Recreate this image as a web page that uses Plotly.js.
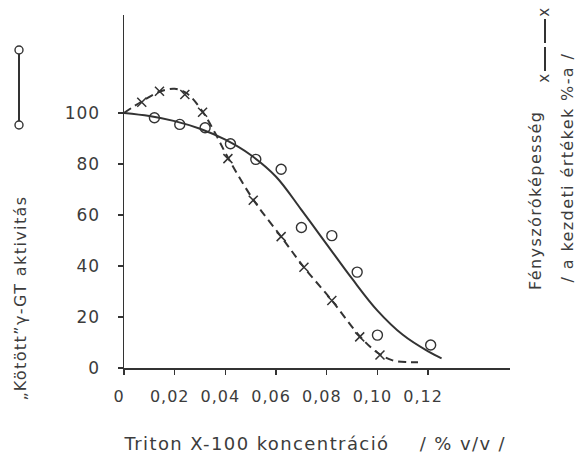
<!DOCTYPE html>
<html>
<head>
<meta charset="utf-8">
<script src="https://cdn.plot.ly/plotly-3.0.1.min.js"></script>
<style>
  html, body { margin: 0; padding: 0; background: #fff; }
  #chart { width: 581px; height: 458px; }
  .main-svg text { letter-spacing: 1px; }
  .main-svg .annotation-text { letter-spacing: 1.4px; }
</style>
</head>
<body>
<div id="chart"></div>
<script>
// ---- data ----
// measured points: "Kötött" γ-GT activity (open circles)
const circleX = [0.012, 0.022, 0.032, 0.042, 0.052, 0.062, 0.070, 0.082, 0.092, 0.100, 0.121];
const circleY = [98.1, 95.5, 94.2, 87.9, 81.8, 77.9, 55.1, 51.9, 37.6, 12.9, 9.0];
// measured points: light scattering (crosses)
const crossX = [0.007, 0.014, 0.024, 0.031, 0.041, 0.051, 0.062, 0.071, 0.082, 0.093, 0.101];
const crossY = [104.2, 108.5, 107.2, 100.3, 82.1, 65.8, 51.5, 39.5, 26.5, 12.2, 5.1];
// hand-drawn fitted curve through the circles (solid)
const solidX = [0, 0.01, 0.02, 0.03, 0.04, 0.05, 0.06, 0.07, 0.08, 0.09, 0.10, 0.11, 0.12, 0.1253];
const solidY = [100, 98.8, 96.8, 93.8, 89.5, 83.5, 75, 62, 48.5, 35, 22.5, 13, 6.5, 3.8];
// hand-drawn curve through the crosses (dashed)
const dashX = [0, 0.007, 0.014, 0.020, 0.025, 0.031, 0.036, 0.041, 0.051, 0.062, 0.071, 0.082, 0.093, 0.100, 0.106, 0.112, 0.116];
const dashY = [100, 104.5, 108.3, 109.5, 107.5, 100.5, 92, 82.5, 66, 51.5, 39.5, 26.5, 12.5, 6, 3, 2.3, 2.3];
// tick labels
const xTickVals = [0, 0.02, 0.04, 0.06, 0.08, 0.10, 0.12];
const xTickText = ['0', '0,02', '0,04', '0,06', '0,08', '0,10', '0,12'];
const yTickVals = [0, 20, 40, 60, 80, 100];
const yTickText = ['0', '20', '40', '60', '80', '100'];

// ---- layout geometry ----
const W = 581, H = 458;
const M = {l: 124, r: 71, t: 15, b: 90};
const PW = W - M.l - M.r, PH = H - M.t - M.b;
const px = p => (p - M.l) / PW;      // pixel -> paper x
const py = p => (H - M.b - p) / PH;  // pixel -> paper y

const ink = '#333';
const textInk = '#3c3c3c';
const FONT = 'DejaVu Sans';

const traces = [
  {x: solidX, y: solidY, mode: 'lines', line: {color: ink, width: 2, shape: 'spline', smoothing: 1}, hoverinfo: 'skip'},
  {x: dashX, y: dashY, mode: 'lines', line: {color: ink, width: 2, dash: '8px,5px', shape: 'spline', smoothing: 1}, hoverinfo: 'skip'},
  {x: circleX, y: circleY, mode: 'markers', marker: {symbol: 'circle-open', size: 10, color: ink, line: {width: 1.4, color: ink}}},
  {x: crossX, y: crossY, mode: 'markers', marker: {symbol: 'x-thin-open', size: 9, color: ink, line: {width: 1.5, color: ink}}}
];

const axisBase = {
  showgrid: false, zeroline: false, showline: true, linecolor: ink, linewidth: 1.5,
  ticks: 'outside', ticklen: 5, tickwidth: 1.3, tickcolor: ink,
  tickfont: {family: FONT, size: 16, color: textInk}
};

const layout = {
  width: W, height: H, margin: M,
  paper_bgcolor: '#fff', plot_bgcolor: '#fff', showlegend: false,
  xaxis: Object.assign({}, axisBase, {
    range: [0, 0.1523], tickvals: xTickVals, ticktext: xTickText,
    ticklabelstandoff: 8, ticklabelshift: -5
  }),
  yaxis: Object.assign({}, axisBase, {
    range: [0, 138.4], tickvals: yTickVals, ticktext: yTickText,
    ticklabelstandoff: 14, tickfont: {family: FONT, size: 17, color: textInk}
  }),
  xaxis2: {overlaying: 'x', anchor: 'y', range: [0, 0.1523], tickvals: xTickVals, showticklabels: false,
    ticks: 'inside', ticklen: 4, tickwidth: 1.3, tickcolor: ink, showline: false, showgrid: false, zeroline: false},
  yaxis2: {overlaying: 'y', anchor: 'x', range: [0, 138.4], tickvals: yTickVals, showticklabels: false,
    ticks: 'inside', ticklen: 4, tickwidth: 1.3, tickcolor: ink, showline: false, showgrid: false, zeroline: false},
  annotations: [
    {xref: 'paper', yref: 'paper', x: px(139), y: py(443), xanchor: 'left', yanchor: 'middle', showarrow: false,
      text: 'Triton X-100 koncentráció', font: {family: FONT, size: 18, color: textInk}},
    {xref: 'paper', yref: 'paper', x: px(424), y: py(443), xanchor: 'left', yanchor: 'middle', showarrow: false,
      text: '/ % v/v /', font: {family: FONT, size: 18, color: textInk}},
    {xref: 'paper', yref: 'paper', x: px(20), y: py(298), xanchor: 'center', yanchor: 'middle', showarrow: false,
      textangle: -90, text: '„Kötött”γ-GT aktivitás', font: {family: FONT, size: 16, color: textInk}},
    {xref: 'paper', yref: 'paper', x: px(535), y: py(200), xanchor: 'center', yanchor: 'middle', showarrow: false,
      textangle: -90, text: 'Fényszóróképesség', font: {family: FONT, size: 16, color: textInk}},
    {xref: 'paper', yref: 'paper', x: px(567), y: py(168), xanchor: 'center', yanchor: 'middle', showarrow: false,
      textangle: -90, text: '/ a kezdeti értékek %-a /', font: {family: FONT, size: 16, color: textInk}},
    {xref: 'paper', yref: 'paper', x: px(544), y: py(12), xanchor: 'center', yanchor: 'middle', showarrow: false,
      textangle: -90, text: 'x', font: {family: FONT, size: 15, color: textInk}},
    {xref: 'paper', yref: 'paper', x: px(544), y: py(78), xanchor: 'center', yanchor: 'middle', showarrow: false,
      textangle: -90, text: 'x', font: {family: FONT, size: 15, color: textInk}}
  ],
  shapes: [
    // legend glyph: circle - line - circle
    {type: 'line', xref: 'paper', yref: 'paper', x0: px(19), x1: px(19), y0: py(54), y1: py(121), line: {color: ink, width: 2}},
    {type: 'circle', xref: 'paper', yref: 'paper', x0: px(15), x1: px(23), y0: py(46), y1: py(54), line: {color: ink, width: 1.4}},
    {type: 'circle', xref: 'paper', yref: 'paper', x0: px(15), x1: px(23), y0: py(121), y1: py(129), line: {color: ink, width: 1.4}},
    // legend glyph: x - - x
    {type: 'line', xref: 'paper', yref: 'paper', x0: px(545), x1: px(545), y0: py(19), y1: py(71), line: {color: ink, width: 2, dash: '24px,4px'}}
  ]
};

Plotly.newPlot('chart', traces, layout, {staticPlot: true, displayModeBar: false});
</script>
</body>
</html>
